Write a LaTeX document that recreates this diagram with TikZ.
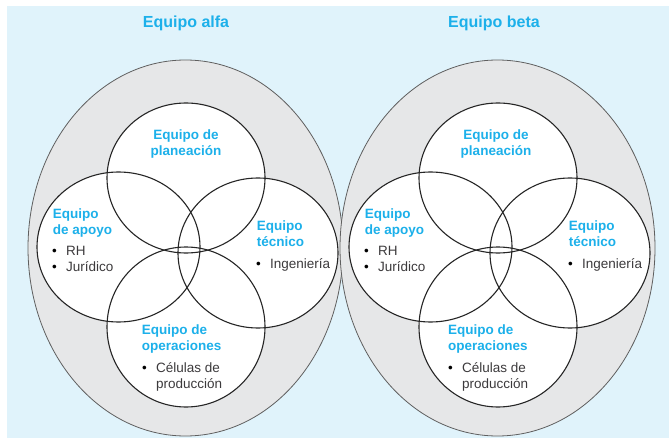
\documentclass[tikz,border=0pt]{standalone}
\usepackage{fontspec}
\setmainfont{Liberation Sans}
\usepackage{xcolor}
\definecolor{fondo}{RGB}{224,243,251}
\definecolor{gris}{RGB}{230,231,232}
\definecolor{cian}{RGB}{28,176,234}
\definecolor{texto}{RGB}{60,58,60}
\definecolor{borde}{RGB}{95,95,95}
\tikzset{
	equipo/.style = {fill=gris, draw=borde, line width=0.8pt},
	grupo/.style = {fill=white},
	aro/.style = {draw=black!85, line width=1.1pt},
	titulo/.style = {text=cian, font=\bfseries\fontsize{16pt}{19pt}\selectfont, anchor=base, inner sep=0pt},
	cabeza/.style = {text=cian, font=\bfseries\fontsize{13.5pt}{16.5pt}\selectfont, align=left, anchor=north west, inner sep=0pt},
	lista/.style = {text=texto, font=\fontsize{13.5pt}{16pt}\selectfont, align=left, anchor=north west, inner sep=0pt}
}
\newcommand{\punto}{\makebox[14pt][l]{\textcolor{black}{\textbullet}}}
\begin{document}
\begin{tikzpicture}[x=1pt, y=-1pt]
		\useasboundingbox (0,0) rectangle (669,438);
		\fill[fondo] (7,6) rectangle (669,438);
		\draw[equipo] (185.5,248) ellipse [x radius=157.5pt, y radius=188pt];
		\draw[equipo] (497.5,248) ellipse [x radius=157.5pt, y radius=188pt];
		\foreach \dx in {0,312} {
			\fill[grupo] (186+\dx,178) ellipse [x radius=79pt, y radius=75pt];
			\fill[grupo] (118.5+\dx,247) ellipse [x radius=81.5pt, y radius=75pt];
			\fill[grupo] (258+\dx,253) ellipse [x radius=80pt, y radius=75pt];
			\fill[grupo] (186+\dx,327) ellipse [x radius=79pt, y radius=80pt];
			\draw[aro] (186+\dx,178) ellipse [x radius=79pt, y radius=75pt];
			\draw[aro] (118.5+\dx,247) ellipse [x radius=81.5pt, y radius=75pt];
			\draw[aro] (258+\dx,253) ellipse [x radius=80pt, y radius=75pt];
			\draw[aro] (186+\dx,327) ellipse [x radius=79pt, y radius=80pt];
		}
		\node[titulo] (alfa) at (186,28) {Equipo alfa};
		\node[titulo] (beta) at (494,28) {Equipo beta};
		\node[cabeza, anchor=north, align=center] (planA) at (186,129.3) {Equipo de\\planeación};
		\node[cabeza] (apoyoA) at (52.7,208.3) {Equipo\\de apoyo};
		\node[lista] (apoyoListaA) at (52,246.4) {\punto RH\\\punto Jurídico};
		\node[cabeza] (tecA) at (256.7,220.3) {Equipo\\técnico};
		\node[lista] (tecListaA) at (256,258.4) {\punto Ingeniería};
		\node[cabeza] (opA) at (141.7,324.3) {Equipo de\\operaciones};
		\node[lista] (opListaA) at (142,362.4) {\punto Células de\\\hspace*{14pt}producción};
		\node[cabeza, anchor=north, align=center] (planB) at (496,129.3) {Equipo de\\planeación};
		\node[cabeza] (apoyoB) at (364.7,208.3) {Equipo\\de apoyo};
		\node[lista] (apoyoListaB) at (364,246.4) {\punto RH\\\punto Jurídico};
		\node[cabeza] (tecB) at (568.7,220.3) {Equipo\\técnico};
		\node[lista] (tecListaB) at (568,258.4) {\punto Ingeniería};
		\node[cabeza] (opB) at (448,324.3) {Equipo de\\operaciones};
		\node[lista] (opListaB) at (448,362.4) {\punto Células de\\\hspace*{14pt}producción};
	\end{tikzpicture}
\end{document}
